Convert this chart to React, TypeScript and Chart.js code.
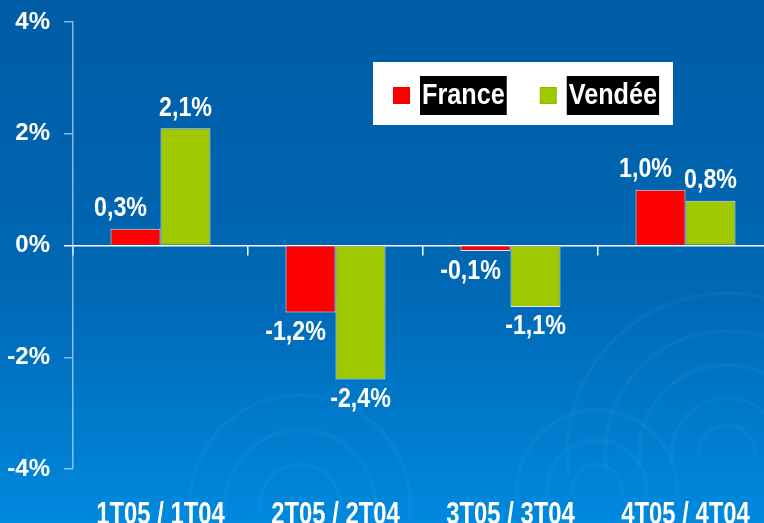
import { useEffect, useRef } from 'react';
import { Chart, registerables } from 'chart.js';

Chart.register(...registerables);

const categories = ['1T05 / 1T04', '2T05 / 2T04', '3T05 / 3T04', '4T05 / 4T04'];
const seriesNames = ['France', 'Vendée'];
const franceValues = [0.3, -1.2, -0.1, 1.0];
const vendeeValues = [2.1, -2.4, -1.1, 0.8];
const yTickValues = [-4, -2, 0, 2, 4];

const SANS = "'Liberation Sans', Arial, sans-serif";

const fmt = (v: number) => v.toFixed(1).replace('.', ',') + '%';

function drawCondensed(ctx: any, text: string, x: number, y: number, sx: number, align: string) {
  ctx.save();
  ctx.translate(x, y);
  ctx.scale(sx, 1);
  ctx.textAlign = align;
  ctx.fillText(text, 0, 0);
  ctx.restore();
}

const backgroundPlugin = {
  id: 'bg',
  beforeDraw(chart: any) {
    const { ctx, width, height } = chart;
    ctx.save();
    const g = ctx.createLinearGradient(0, 0, 0, height);
    g.addColorStop(0, '#005ca6');
    g.addColorStop(0.55, '#0068b4');
    g.addColorStop(1, '#0089de');
    ctx.fillStyle = g;
    ctx.fillRect(0, 0, width, height);
    const ripples = [
      { x: 727, y: 453, r: [28, 55, 88, 122, 160] },
      { x: 597, y: 490, r: [25, 50, 80] },
      { x: 300, y: 505, r: [40, 75, 110] },
    ];
    ctx.strokeStyle = 'rgba(120,200,255,0.06)';
    ctx.lineWidth = 4;
    for (const rp of ripples) {
      for (const r of rp.r) {
        ctx.beginPath();
        ctx.arc(rp.x, rp.y, r, Math.PI * 0.95, Math.PI * 2.05);
        ctx.stroke();
      }
    }
    ctx.restore();
  },
};

const textPlugin = {
  id: 'texts',
  afterDatasetsDraw(chart: any) {
    const { ctx } = chart;
    ctx.save();
    ctx.fillStyle = '#ffffff';
    ctx.font = `bold 27px ${SANS}`;
    ctx.textBaseline = 'middle';
    chart.data.datasets.forEach((ds: any, di: number) => {
      const meta = chart.getDatasetMeta(di);
      const dx = di === 0 ? -15 : 0;
      meta.data.forEach((bar: any, i: number) => {
        const v = ds.data[i] as number;
        const y = v >= 0 ? bar.y - 20 : bar.y + 20;
        drawCondensed(ctx, fmt(v), bar.x + dx, y, 0.86, 'center');
      });
    });
    const xs = chart.scales.x;
    ctx.font = `bold 31px ${SANS}`;
    ctx.textBaseline = 'alphabetic';
    chart.data.labels.forEach((lab: string, i: number) => {
      drawCondensed(ctx, lab, xs.getPixelForValue(i), 524, 0.77, 'center');
    });
    ctx.restore();
  },
};

const legendPlugin = {
  id: 'boxLegend',
  afterDraw(chart: any) {
    const { ctx } = chart;
    const left = 373;
    const top = 62;
    const w = 300;
    const h = 63;
    const sx = 0.87;
    ctx.save();
    ctx.fillStyle = '#ffffff';
    ctx.fillRect(left, top, w, h);
    ctx.font = `bold 29px ${SANS}`;
    const sq = 17;
    let x = left + 20;
    const cy = top + h / 2 + 2;
    chart.data.datasets.forEach((ds: any) => {
      const tw = ctx.measureText(ds.label).width * sx;
      ctx.fillStyle = ds.backgroundColor;
      ctx.fillRect(x, cy - sq / 2, sq, sq);
      ctx.strokeStyle = 'rgba(0,0,0,0.08)';
      ctx.lineWidth = 1;
      ctx.strokeRect(x + 0.5, cy - sq / 2 + 0.5, sq - 1, sq - 1);
      x += sq + 10;
      ctx.fillStyle = '#000000';
      ctx.fillRect(x, top + 14, tw + 4, 39);
      ctx.fillStyle = '#ffffff';
      ctx.textBaseline = 'middle';
      drawCondensed(ctx, ds.label, x + 2, cy, sx, 'left');
      x += tw + 4 + 33;
    });
    ctx.restore();
  },
};

export default function App() {
  const ref = useRef<HTMLCanvasElement>(null);
  useEffect(() => {
    const canvas = ref.current!;
    const chart = new Chart(canvas, {
      type: 'bar',
      data: {
        labels: categories,
        datasets: [
          {
            label: seriesNames[0],
            data: franceValues,
            backgroundColor: '#ff0000',
            borderColor: '#e6e6e6',
            borderWidth: 1,
            xAxisID: 'x',
            yAxisID: 'y',
          },
          {
            label: seriesNames[1],
            data: vendeeValues,
            backgroundColor: '#9fc800',
            borderColor: '#e6e6e6',
            borderWidth: 1,
            xAxisID: 'x',
            yAxisID: 'y',
          },
        ],
      },
      options: {
        responsive: false,
        animation: false,
        categoryPercentage: 0.5714,
        barPercentage: 1,
        layout: { padding: { top: 22, right: 27, left: 0, bottom: 0 } },
        plugins: { legend: { display: false }, tooltip: { enabled: false } },
        scales: {
          x: {
            type: 'category',
            position: 'bottom',
            offset: true,
            grid: { display: false, drawTicks: false },
            border: { display: false },
            ticks: { display: false },
            afterFit: (s: any) => {
              s.height = 54;
              s.paddingLeft = 0;
              s.paddingRight = 0;
            },
          },
          x0: {
            type: 'category',
            position: { y: 0 },
            offset: true,
            grid: {
              offset: true,
              drawOnChartArea: false,
              drawTicks: true,
              tickLength: 9,
              color: '#ffffff',
              lineWidth: 1.5,
            },
            border: { color: '#ffffff', width: 1.5 },
            ticks: { display: false },
            afterFit: (s: any) => {
              s.paddingLeft = 0;
              s.paddingRight = 0;
            },
          },
          y: {
            type: 'linear',
            min: -4,
            max: 4,
            afterBuildTicks: (s: any) => {
              s.ticks = yTickValues.map((v) => ({ value: v }));
            },
            ticks: {
              callback: (v: any) => v + '%',
              color: '#ffffff',
              font: { family: SANS, size: 24, weight: 'bold' },
              padding: 14,
            },
            grid: {
              drawOnChartArea: false,
              drawTicks: true,
              tickLength: 9,
              lineWidth: 1.5,
              tickColor: (c: any) => (c.tick && c.tick.value === 0 ? '#ffffff' : 'rgba(200,220,240,0.7)'),
              color: 'rgba(200,220,240,0.7)',
            },
            border: { color: 'rgba(200,220,240,0.7)', width: 1.5 },
            afterFit: (s: any) => {
              s.width = 73;
              s.paddingTop = 0;
              s.paddingBottom = 0;
            },
          },
        },
      } as any,
      plugins: [backgroundPlugin, textPlugin, legendPlugin],
    });
    return () => chart.destroy();
  }, []);
  return (
    <div style={{ position: 'fixed', left: 0, top: 0, width: 764, height: 523, overflow: 'hidden' }}>
      <canvas ref={ref} width={800} height={523} style={{ display: 'block' }} />
    </div>
  );
}
